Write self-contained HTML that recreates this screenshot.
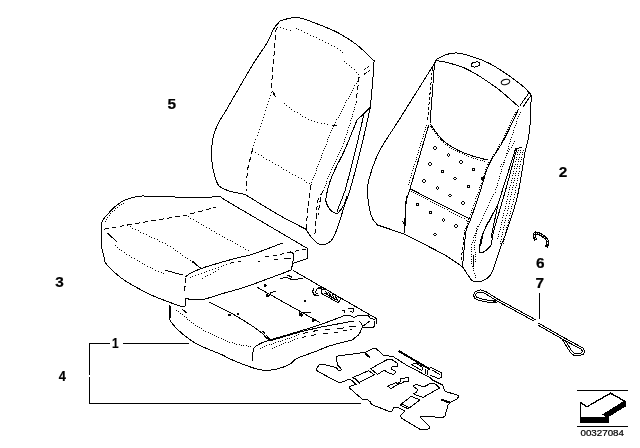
<!DOCTYPE html>
<html><head><meta charset="utf-8"><title>Seat cover diagram</title>
<style>
html,body{margin:0;padding:0;background:#fff;}
body{width:640px;height:448px;overflow:hidden;}
svg{display:block;}
text{font-family:"Liberation Sans",sans-serif;fill:#000;}
.n{font-weight:bold;font-size:14px;text-anchor:middle;stroke:#000;stroke-width:0.2px;}
</style></head><body>
<svg width="640" height="448" viewBox="0 0 640 448">
<rect width="640" height="448" fill="#fff"/>
<g fill="none" stroke="#000" stroke-width="1" shape-rendering="crispEdges" stroke-linejoin="round">

<!-- ===== backrest cover 5 ===== -->
<g id="b5">
<path d="M245,194.5 C242.50,193.96 233.96,192.42 230,191.25 C226.04,190.08 223.33,188.75 221.25,187.5 C219.17,186.25 218.75,186.25 217.5,183.75 C216.25,181.25 214.71,176.46 213.75,172.5 C212.79,168.54 212.08,164.17 211.75,160 C211.42,155.83 211.42,151.67 211.75,147.5 C212.08,143.33 212.58,139.17 213.75,135 C214.92,130.83 216.67,126.67 218.75,122.5 C220.83,118.33 220.62,119.58 226.25,110 C231.88,100.42 246.04,75.62 252.5,65 C258.96,54.38 262.08,50.93 265,46.25 C267.92,41.57 268.54,39.82 270,36.9 C271.46,33.98 272.29,31.15 273.75,28.75 C275.21,26.35 277.50,23.86 278.75,22.5 C280.00,21.14 278.96,21.39 281.25,20.6 C283.54,19.81 289.58,18.23 292.5,17.75 C295.42,17.27 296.50,17.43 298.75,17.75 C301.00,18.07 303.29,18.82 306,19.7 C308.71,20.57 310.17,21.07 315,23 C319.83,24.93 329.17,28.42 335,31.25 C340.83,34.08 345.83,37.29 350,40 C354.17,42.71 356.00,44.00 360,47.5 C364.00,51.00 371.67,58.75 374,61 C374.00,61.25 374.20,59.33 374,62.5 C373.80,65.67 373.40,72.55 372.8,80 C372.20,87.45 370.80,102.67 370.4,107.2 C368.77,114.33 364.00,136.20 360.6,150 C357.20,163.80 352.60,181.04 350,190 C347.40,198.96 346.67,198.75 345,203.75 C343.33,208.75 341.57,215.21 340,220 C338.43,224.79 337.06,229.07 335.6,232.5 C334.14,235.93 333.02,238.62 331.25,240.6 C329.48,242.58 326.88,243.77 325,244.4 C323.12,245.03 321.67,244.93 320,244.4 C318.33,243.88 316.67,242.72 315,241.25 C313.33,239.78 311.46,237.57 310,235.6 C308.54,233.62 306.88,230.43 306.25,229.4 C301.88,227.10 290.21,221.42 280,215.6 C269.79,209.78 250.83,198.02 245,194.5"/>
<path d="M370.4,107.2 L356.9,120.3 C354.87,125.25 348.03,142.45 344.7,150 C341.37,157.55 339.25,160.65 336.9,165.6 C334.55,170.55 332.30,175.01 330.6,179.7 C328.90,184.39 327.47,190.12 326.7,193.75 C325.93,197.38 325.48,198.89 326,201.5 C326.52,204.11 328.25,207.43 329.8,209.4 C331.35,211.37 333.87,212.78 335.3,213.3 C336.73,213.82 336.95,213.93 338.4,212.5 C339.85,211.07 342.57,207.37 344,204.7 C345.43,202.03 346.50,197.87 347,196.5"/>
<path d="M364,114 L355.6,150 L345.3,190 L337,211.7"/>
</g>
<g id="b5d" stroke-dasharray="5 3">
<path d="M276.25,27.5 L271.25,88.75 L275,95"/>
<path d="M252.5,149.5 L247.5,169.5 L246,191"/>
<path d="M359,77.5 L356,102.5"/>
<path d="M363.75,70 L369,66.25 M364.2,74.2 L370.8,69.5" stroke-dasharray="3 1.5"/>
<path d="M311,184.7 L308,206 L306,230.6"/>
<path d="M323,191 L317.5,200.6 L314.7,237"/>
<path d="M320.6,197.5 L318,215"/>
</g>
<path fill="#000" stroke="none" d="M277,27h1v1h-1zM280,27h1v1h-1zM283,28h1v1h-1zM286,29h1v1h-1zM290,30h1v1h-1zM296,28h1v1h-1zM298,29h1v1h-1zM301,30h1v1h-1zM304,32h1v1h-1zM307,33h1v1h-1zM310,35h1v1h-1zM313,36h1v1h-1zM316,37h1v1h-1zM319,39h1v1h-1zM322,40h1v1h-1zM325,42h1v1h-1zM328,43h1v1h-1zM331,45h1v1h-1zM334,46h1v1h-1zM337,48h1v1h-1zM340,50h1v1h-1zM342,52h1v1h-1zM344,61h1v1h-1zM346,63h1v1h-1zM349,65h1v1h-1zM351,67h1v1h-1zM354,69h1v1h-1zM356,72h1v1h-1zM358,74h1v1h-1zM271,92h1v1h-1zM270,95h1v1h-1zM269,98h1v1h-1zM268,101h1v1h-1zM267,104h1v1h-1zM266,107h1v1h-1zM265,110h1v1h-1zM264,114h1v1h-1zM263,117h1v1h-1zM262,120h1v1h-1zM261,123h1v1h-1zM260,126h1v1h-1zM259,129h1v1h-1zM258,132h1v1h-1zM257,135h1v1h-1zM255,139h1v1h-1zM254,142h1v1h-1zM253,145h1v1h-1zM252,148h1v1h-1zM284,103h1v1h-1zM286,105h1v1h-1zM289,107h1v1h-1zM291,109h1v1h-1zM294,111h1v1h-1zM297,112h1v1h-1zM300,114h1v1h-1zM302,116h1v1h-1zM305,117h1v1h-1zM308,119h1v1h-1zM311,120h1v1h-1zM314,121h1v1h-1zM317,122h1v1h-1zM321,123h1v1h-1zM324,123h1v1h-1zM327,124h1v1h-1zM252,151h1v1h-1zM255,152h1v1h-1zM258,154h1v1h-1zM261,155h1v1h-1zM263,157h1v1h-1zM266,159h1v1h-1zM269,160h1v1h-1zM272,162h1v1h-1zM275,164h1v1h-1zM278,165h1v1h-1zM281,167h1v1h-1zM283,169h1v1h-1zM286,170h1v1h-1zM289,172h1v1h-1zM292,174h1v1h-1zM295,175h1v1h-1zM298,177h1v1h-1zM301,178h1v1h-1zM304,180h1v1h-1zM306,182h1v1h-1zM309,183h1v1h-1z"/>
<path d="M273,94 L276,97 M332,125.5 L336.5,125.5"/>
<path fill="#000" stroke="none" d="M356,102h1v1h-1zM355,104h1v1h-1zM354,107h1v1h-1zM354,109h1v1h-1zM353,111h1v1h-1zM352,114h1v1h-1zM352,116h1v1h-1zM351,118h1v1h-1zM350,120h1v1h-1zM350,123h1v1h-1zM349,125h1v1h-1zM348,127h1v1h-1zM347,130h1v1h-1zM347,132h1v1h-1zM346,134h1v1h-1zM345,137h1v1h-1zM344,139h1v1h-1zM344,141h1v1h-1zM343,143h1v1h-1zM342,146h1v1h-1zM341,148h1v1h-1zM340,150h1v1h-1zM339,152h1v1h-1zM338,154h1v1h-1zM337,156h1v1h-1zM336,159h1v1h-1zM335,161h1v1h-1zM334,163h1v1h-1zM333,165h1v1h-1zM332,167h1v1h-1zM331,169h1v1h-1zM330,172h1v1h-1zM329,174h1v1h-1zM328,176h1v1h-1zM327,178h1v1h-1zM326,181h1v1h-1zM326,183h1v1h-1zM325,185h1v1h-1zM324,187h1v1h-1zM323,190h1v1h-1zM359,77h1v1h-1zM358,79h1v1h-1zM357,81h1v1h-1zM356,83h1v1h-1zM354,85h1v1h-1zM353,88h1v1h-1zM352,90h1v1h-1zM351,92h1v1h-1zM350,94h1v1h-1zM349,96h1v1h-1zM348,98h1v1h-1zM346,100h1v1h-1zM345,102h1v1h-1zM344,105h1v1h-1zM343,107h1v1h-1zM342,109h1v1h-1zM341,111h1v1h-1zM340,113h1v1h-1zM339,115h1v1h-1zM338,117h1v1h-1zM336,119h1v1h-1zM335,122h1v1h-1zM334,124h1v1h-1zM333,126h1v1h-1zM332,128h1v1h-1zM331,130h1v1h-1zM330,132h1v1h-1zM329,135h1v1h-1zM328,137h1v1h-1zM327,139h1v1h-1zM327,141h1v1h-1zM326,144h1v1h-1zM325,146h1v1h-1zM324,148h1v1h-1zM323,150h1v1h-1zM322,153h1v1h-1zM321,155h1v1h-1zM321,157h1v1h-1zM320,159h1v1h-1zM319,161h1v1h-1zM318,164h1v1h-1zM317,166h1v1h-1zM316,168h1v1h-1zM316,170h1v1h-1zM315,173h1v1h-1zM314,175h1v1h-1zM313,177h1v1h-1zM312,179h1v1h-1zM311,182h1v1h-1zM311,184h1v1h-1z"/>

<!-- ===== seat cover 3 ===== -->
<g id="s3">
<path d="M220,196.25 L202.5,198 C197.92,197.83 183.75,197.28 175,197 C166.25,196.72 156.04,196.43 150,196.3 C143.96,196.18 142.92,195.63 138.75,196.25 C134.58,196.87 128.75,198.44 125,200 C121.25,201.56 118.96,203.43 116.25,205.6 C113.54,207.77 110.96,210.60 108.75,213 C106.54,215.40 104.25,217.79 103,220 C101.75,222.21 101.54,222.92 101.25,226.25 C100.96,229.58 101.12,236.25 101.25,240 C101.38,243.75 101.47,245.62 102,248.75 C102.53,251.88 103.80,256.38 104.4,258.75 C105.00,261.12 104.46,261.23 105.6,263 C106.74,264.77 108.85,267.07 111.25,269.4 C113.65,271.73 116.88,274.61 120,277 C123.12,279.39 124.58,280.65 130,283.75 C135.42,286.85 143.75,291.73 152.5,295.6 C161.25,299.48 177.50,305.10 182.5,307 L185,306 L185.6,298.2 L190,299.4 C192.29,299.37 198.58,300.10 203.75,299.2 C208.92,298.30 214.96,295.77 221,294 C227.04,292.23 234.75,290.18 240,288.6 C245.25,287.02 243.96,287.60 252.5,284.5 C261.04,281.40 284.79,272.42 291.25,270 C291.54,268.50 292.58,263.54 293,261 C293.42,258.46 294.25,256.42 293.75,254.75 C293.25,253.08 290.62,251.62 290,251"/>
<path d="M220,196.25 L225,200 L265,223.5 L307.5,248.5 L307.5,258.5 L292.5,263.5"/>
<path d="M185.5,277 C186.25,276.42 187.58,274.83 190,273.5 C192.42,272.17 196.67,270.32 200,269 C203.33,267.68 204.17,267.35 210,265.6 C215.83,263.85 228.12,260.33 235,258.5 C241.88,256.67 245.42,256.38 251.25,254.6 C257.08,252.82 264.79,249.73 270,247.8 C275.21,245.87 280.42,243.80 282.5,243"/>
<path fill="#000" stroke="none" d="M123,203h1v1h-1zM121,204h1v1h-1zM119,205h1v1h-1zM117,207h1v1h-1zM115,208h1v1h-1zM114,210h1v1h-1zM112,211h1v1h-1zM110,213h1v1h-1zM109,215h1v1h-1zM107,217h1v1h-1zM106,219h1v1h-1zM105,221h1v1h-1z"/>
<path d="M107.5,233 L117.5,242.5"/>
<path d="M192.3,261 L201,269"/>
<path d="M230,263.2 L234,262.4 M238,261.6 L241,261"/>
<path d="M165,270 L175,273 L182.5,275"/>
<path d="M274.4,260 L278,259.75 M283.75,259 L291.25,258.25 M257.5,261.25 L260,261.25"/>
</g>
<g stroke-dasharray="5 3">
<path d="M103.75,229.25 L127.5,225 L185.6,215.3 L216,207.25"/>
<path d="M185.6,278.5 L184.6,292"/>
<path d="M306,249 L292.5,251.6 L276,255.4 L262,257" stroke-dasharray="4 3.5"/>
</g>
<path fill="#000" stroke="none" d="M115,245h1v1h-1zM117,247h1v1h-1zM119,249h1v1h-1zM121,250h1v1h-1zM124,252h1v1h-1zM126,254h1v1h-1zM129,255h1v1h-1zM131,257h1v1h-1zM134,258h1v1h-1zM137,260h1v1h-1zM139,261h1v1h-1zM142,263h1v1h-1zM144,264h1v1h-1zM147,266h1v1h-1zM150,267h1v1h-1zM152,268h1v1h-1zM155,270h1v1h-1zM158,271h1v1h-1zM161,272h1v1h-1zM163,273h1v1h-1zM127,225h1v1h-1zM130,226h1v1h-1zM132,228h1v1h-1zM135,229h1v1h-1zM138,230h1v1h-1zM140,232h1v1h-1zM143,233h1v1h-1zM146,234h1v1h-1zM149,236h1v1h-1zM151,237h1v1h-1zM154,238h1v1h-1zM157,239h1v1h-1zM159,241h1v1h-1zM162,242h1v1h-1zM165,243h1v1h-1zM167,245h1v1h-1zM170,246h1v1h-1zM173,248h1v1h-1zM175,250h1v1h-1zM177,251h1v1h-1zM180,253h1v1h-1zM182,255h1v1h-1zM185,257h1v1h-1zM187,258h1v1h-1zM190,260h1v1h-1zM192,262h1v1h-1zM195,263h1v1h-1zM197,265h1v1h-1zM200,267h1v1h-1zM185,215h1v1h-1zM188,216h1v1h-1zM190,218h1v1h-1zM193,219h1v1h-1zM196,221h1v1h-1zM198,222h1v1h-1zM201,224h1v1h-1zM203,225h1v1h-1zM206,227h1v1h-1zM209,228h1v1h-1zM211,230h1v1h-1zM214,231h1v1h-1zM216,233h1v1h-1zM219,234h1v1h-1zM222,236h1v1h-1zM224,237h1v1h-1zM227,239h1v1h-1zM230,240h1v1h-1zM232,241h1v1h-1zM235,243h1v1h-1zM237,244h1v1h-1zM240,246h1v1h-1zM243,247h1v1h-1zM245,249h1v1h-1zM248,250h1v1h-1zM190,277h1v1h-1zM192,276h1v1h-1zM195,275h1v1h-1zM198,274h1v1h-1zM201,273h1v1h-1zM204,272h1v1h-1zM206,271h1v1h-1zM209,270h1v1h-1zM212,269h1v1h-1zM215,268h1v1h-1zM218,267h1v1h-1zM221,266h1v1h-1zM223,265h1v1h-1zM226,264h1v1h-1zM202,278h1v1h-1zM205,276h1v1h-1zM207,275h1v1h-1zM210,274h1v1h-1zM213,272h1v1h-1zM215,271h1v1h-1zM218,269h1v1h-1z"/>

<!-- ===== seat pad/frame 1 ===== -->
<g id="p1">
<path d="M169.5,305 C169.54,307.29 169.25,315.62 169.75,318.75 C170.25,321.88 171.00,321.77 172.5,323.75 C174.00,325.73 176.04,328.10 178.75,330.6 C181.46,333.10 185.21,336.25 188.75,338.75 C192.29,341.25 194.38,342.89 200,345.6 C205.62,348.31 217.50,352.77 222.5,355 C227.50,357.23 225.10,356.92 230,359 C234.90,361.08 246.17,365.62 251.9,367.5 C257.63,369.38 260.23,370.05 264.4,370.3 C268.57,370.55 272.73,369.98 276.9,369 C281.07,368.02 286.02,366.18 289.4,364.4 C292.78,362.62 293.03,360.38 297.2,358.3 C301.37,356.22 308.93,353.98 314.4,351.9 C319.87,349.82 323.73,347.78 330,345.8 C336.27,343.82 348.04,341.22 352,340 C355.96,338.78 352.62,339.38 353.75,338.5 C354.88,337.62 357.50,336.21 358.75,334.75 C360.00,333.29 360.62,331.21 361.25,329.75 C361.88,328.29 362.81,327.46 362.5,326 C362.19,324.54 359.92,321.83 359.4,321"/>
<path d="M252.5,361 C252.71,358.96 252.50,351.62 253.75,348.75 C255.00,345.88 257.29,345.21 260,343.75 C262.71,342.29 263.33,342.12 270,340 C276.67,337.88 291.67,333.54 300,331 C308.33,328.46 312.50,327.35 320,324.75 C327.50,322.15 340.83,316.96 345,315.4 C345.83,315.46 348.54,315.44 350,315.75 C351.46,316.06 352.50,317.21 353.75,317.25 C355.00,317.29 355.21,316.31 357.5,316 C359.79,315.69 365.42,315.08 367.5,315.4 C369.58,315.72 368.75,317.17 370,317.9 C371.25,318.62 374.17,319.44 375,319.75"/>
<path d="M269.5,341 L300,332 L320,327.25 L353.75,321"/>
<path d="M293.4,270.6 L376.25,318.5 L377,319.75 L376.25,324"/>
<path d="M370,321 L362.5,326.6 L363.75,327.9 L373.75,327.9 L375,321"/>
<path d="M209.4,302.25 C212.83,303.96 223.44,308.92 230,312.5 C236.56,316.08 243.54,320.42 248.75,323.75 C253.96,327.08 257.81,329.79 261.25,332.5 C264.69,335.21 268.04,338.75 269.4,340"/>
<path d="M257.5,287.5 L320,322.5"/>
<path d="M313.75,288.25 L312.5,292 L314.4,295 L319.4,295.75" stroke-width="1.5"/>
<path d="M316.9,288.9 L315.6,292.5 L317.5,294"/>
<path d="M317.5,287.8 L322.5,288.4" stroke-width="2"/>
<path d="M321.25,290 L325.6,288.9 L341.25,298.9 L338,302.6 L321.25,293.25 Z"/>
<path d="M325,291 L328,294.5 M328,292 L332,297 M332,294 L335,299.5 M335.5,296.5 L338,301 M324,293 L337,300"/>
<path d="M280,274.5 L291.25,270 L292.5,264.5"/>
<path d="M280,278.25 L287.5,277.6 L292.5,280 L302.5,278.25"/>
<path d="M287.5,275 L292.5,277.5"/>
<path d="M298.75,314.5 L301.5,316.5 L303.75,312.6 L311.25,312"/>
<path d="M299,313 L302,315" stroke-width="2"/>
<path d="M266,296 L268.5,297 L271,292.5 L276,291"/>
<path d="M266,294.5 L269,296.5" stroke-width="2"/>
<path d="M341.9,311 L345,310.4 L344.4,313 M348,309 L353.75,308.5 L353,312.25 L350,311.6"/>
<path d="M264,284.5 h2 v1.5 h-2z M228,314 h2 v1.5 h-2z M237,313 h1.5 v1.5 h-1.5z M312,319.5 h2 v1.5 h-2z M304,300 h1.5 v1.5 h-1.5z" fill="#000"/>
<path d="M262.5,331 L265,333.5 M266,335 L270,338.75 M264,336 L267,339"/>
</g>
<g stroke-dasharray="5 3">
<path fill="#000" stroke="none" d="M176,310h1v1h-1zM178,311h1v1h-1zM180,313h1v1h-1zM182,314h1v1h-1zM184,316h1v1h-1zM186,317h1v1h-1zM187,319h1v1h-1zM189,320h1v1h-1zM191,322h1v1h-1zM193,323h1v1h-1zM195,325h1v1h-1zM197,326h1v1h-1zM199,327h1v1h-1zM201,328h1v1h-1zM203,330h1v1h-1zM205,331h1v1h-1zM208,332h1v1h-1zM210,333h1v1h-1zM212,334h1v1h-1zM214,335h1v1h-1zM216,336h1v1h-1zM218,337h1v1h-1zM221,338h1v1h-1zM223,339h1v1h-1zM225,340h1v1h-1zM227,341h1v1h-1zM229,342h1v1h-1zM232,342h1v1h-1zM234,343h1v1h-1zM236,344h1v1h-1zM239,344h1v1h-1zM241,345h1v1h-1zM243,345h1v1h-1zM246,345h1v1h-1zM248,346h1v1h-1zM250,346h1v1h-1z"/>
<path d="M182.5,309.4 L186.9,313" stroke-dasharray="none"/>
<path d="M170.5,306 L170.6,318" stroke-dasharray="none"/>
<path fill="#000" stroke="none" d="M260,348h1v1h-1zM262,347h1v1h-1zM264,346h1v1h-1zM266,345h1v1h-1zM269,344h1v1h-1zM271,344h1v1h-1zM273,343h1v1h-1zM275,342h1v1h-1zM278,341h1v1h-1zM280,341h1v1h-1zM282,340h1v1h-1zM285,339h1v1h-1zM287,338h1v1h-1zM289,338h1v1h-1zM291,337h1v1h-1zM294,336h1v1h-1zM296,335h1v1h-1zM298,334h1v1h-1z"/>
<path fill="#000" stroke="none" d="M272,348h1v1h-1zM274,347h1v1h-1zM276,346h1v1h-1zM279,345h1v1h-1zM281,344h1v1h-1zM283,343h1v1h-1zM285,342h1v1h-1zM288,342h1v1h-1zM290,341h1v1h-1zM292,340h1v1h-1zM294,339h1v1h-1zM297,338h1v1h-1z"/>
<path d="M303,333.5 L308,332.3 M313,331.3 L318,330.3 M302,337.5 L306,336.5 M311,335.5 L316,334.6" stroke-dasharray="none"/>
<path d="M325,329.1 L330,329.1 M337.5,328.5 L343.75,327.9 M349.4,326.6 L356.25,326 M322.5,333.25 L327.5,333.25 M333.75,332.25 L337.5,332.25 M343,331 L347,330.75 M350,329.75 L352.5,329.5" stroke-dasharray="none"/>
</g>

<!-- ===== mat 4 ===== -->
<g id="m4">
<path d="M316.25,369.4 L319.4,364.4 L323,364.4 L336.25,367.5 L338,370 L341.25,370 L340.6,368 L337.5,365 L336.25,356.25 L360,353 L365,352.5 L373.75,348 L376.25,348.75 L382.5,354.4 L383.75,355.6 L392.5,356.25 L406.25,365 L430,377.5 L432.5,380 L442.5,385 L445,391.25 L458.75,395.6 L457.5,398.75 L450,402.5 L448,405 L445,416.25 L442.5,417.5 L423.75,416.25 L420,416.25 L421.25,418 L430,427 L429.4,428.75 L421.25,430 L401.25,418 L400.6,415.6 L405,411.25 L398,407.5 L393.75,407.5 L392,411 L388.75,411.25 L371.25,404.4 L370.6,402 L367.5,399.75 L362.5,399.4 L349.4,388 L350,386.25 L356.25,384.4 L351.25,380 L348.75,379.4 L342.5,382 L338.75,382.5 L317.5,371.25 Z"/>
<path d="M353,377.5 L368.75,370.6 L374.4,375 L359.4,382.5 Z"/>
<path d="M354.5,378 L360,383.5"/>
<path d="M370.6,368.75 L387.5,359.4 L392.5,360 L398,363.75 L397.5,366.25 L392.5,366.25 L391.25,368.75 L396.25,372 L393.75,374.4 L388.75,373 L385,370.6 L382.5,371.25 L377.5,374.4 Z"/>
<path d="M387.5,386.25 L396.25,382.5 L398,384.5 L391,388.5 Z"/>
<path d="M400,379 L409,377.3 L408,381.5 L403.5,382 L401,384 L398.5,383 L401,381 Z"/>
<path d="M413,386.25 L416.25,384.4 L423.75,386.9 L427.5,385 L430,383 L435,383.75 L439.4,388 L423,397.5 L413,393.75 L416.25,392.5 L417.5,389.4 Z"/>
<path d="M400,405 L411.25,396.25 L420,400 L408,408.75 Z"/>
<path d="M401.5,404 L409.5,407.8"/>
<path d="M398.75,351 L430,369.4" stroke-width="2"/>
<path d="M411.25,364.4 L416.25,363 L422.5,367.5 L421.9,370.6 Z"/>
<path d="M430,367 L441.25,372.5 L441.25,377.5 L438.75,378.75 L430,375"/>
<path d="M432,370 L440,374.5 M426,369 L425,374 M428,370 L427.5,375"/>
<path d="M365,353 L370,357.5" stroke-width="2"/>
<path d="M440.6,399.4 L449.4,402.5" stroke-width="2"/>
</g>

<!-- ===== backrest 2 ===== -->
<g id="b2">
<path d="M436.25,59.5 C437.71,58.75 441.88,56.08 445,55 C448.12,53.92 451.67,53.08 455,53 C458.33,52.92 459.17,52.71 465,54.5 C470.83,56.29 480.83,58.88 490,63.75 C499.17,68.62 513.12,78.54 520,83.75 C526.88,88.96 529.38,93.12 531.25,95 C531.04,100.00 530.54,117.50 530,125 C529.46,132.50 528.83,135.42 528,140 C527.17,144.58 526.75,143.17 525,152.5 C523.25,161.83 520.50,183.08 517.5,196 C514.50,208.92 509.92,221.21 507,230 C504.08,238.79 502.33,242.08 500,248.75 C497.67,255.42 494.88,265.29 493,270 C491.12,274.71 490.71,275.12 488.75,277 C486.79,278.88 483.88,280.54 481.25,281.25 C478.62,281.96 475.08,282.08 473,281.25 C470.92,280.42 470.42,278.57 468.75,276.25 C467.08,273.93 463.96,268.79 463,267.3 C460.17,265.38 453.00,259.87 446,255.75 C439.00,251.63 427.95,246.22 421,242.6 C414.05,238.97 407.08,235.43 404.3,234 L377.5,225 C376.42,223.33 372.67,220.83 371,215 C369.33,209.17 367.50,197.08 367.5,190 C367.50,182.92 368.92,179.17 371,172.5 C373.08,165.83 375.17,159.02 380,150 C384.83,140.98 390.83,132.98 400,118.4 C409.17,103.82 429.17,71.82 435,62.5 L436.25,59.5"/>
<path d="M436,60.5 C437.83,60.83 442.27,61.25 447,62.5 C451.73,63.75 458.65,65.50 464.4,68 C470.15,70.50 475.77,73.92 481.5,77.5 C487.23,81.08 492.50,84.58 498.75,89.5 C505.00,94.42 515.62,104.08 519,107"/>
<path d="M531.25,95 L522.5,107.5"/>
<path d="M529,93 L520,105.5"/>
<path d="M434.5,63.75 L430,123.75 C432.08,126.46 437.92,135.62 442.5,140 C447.08,144.38 452.50,147.33 457.5,150 C462.50,152.67 467.50,154.33 472.5,156 C477.50,157.67 485.00,159.33 487.5,160"/>
<path d="M518.75,108.75 C516.25,113.96 508.75,130.62 503.75,140 C498.75,149.38 492.61,156.67 488.75,165 C484.89,173.33 483.62,180.93 480.6,190 C477.58,199.07 472.99,212.73 470.6,219.4 C468.21,226.07 467.28,225.57 466.25,230 C465.22,234.43 465.02,239.83 464.4,246 C463.77,252.17 462.82,263.50 462.5,267"/>
<path d="M428.75,125 L410,188.75 L405.5,203 L404.5,233.5"/>
<path d="M406.5,196 L405.3,215 L404.8,233" />
<path d="M402.5,221 L404,224"/>
<path d="M410,188.75 L470.6,219.4"/>
<path d="M515,148.75 L522.5,147.5"/>
<path d="M515.6,148.75 C513.42,155.62 505.52,180.62 502.5,190 C499.48,199.38 500.21,199.00 497.5,205 C494.79,211.00 489.07,220.17 486.25,226 C483.43,231.83 481.68,235.50 480.6,240 C479.52,244.50 479.89,250.83 479.75,253 C480.62,252.71 483.08,252.58 485,251.25 C486.92,249.92 490.21,246.04 491.25,245 C491.71,242.50 491.61,239.17 494,230 C496.39,220.83 501.83,203.42 505.6,190 C509.37,176.58 514.77,156.25 516.6,149.5"/>
<path d="M498,204 L491,238"/>
<path d="M496.5,207 L483.5,232 L480.6,246"/>
<path d="M473.75,255 L473,267.5"/>
</g>
<g stroke-dasharray="3 2">
<path d="M432.5,67.5 L427.5,120"/>
<path d="M464.5,232 L461,262"/>
</g>
<path fill="#000" stroke="none" d="M426,125h1v1h-1zM425,127h1v1h-1zM425,129h1v1h-1zM424,131h1v1h-1zM423,134h1v1h-1zM423,136h1v1h-1zM422,138h1v1h-1zM421,141h1v1h-1zM420,143h1v1h-1zM420,145h1v1h-1zM419,147h1v1h-1zM418,150h1v1h-1zM418,152h1v1h-1zM417,154h1v1h-1zM416,157h1v1h-1zM416,159h1v1h-1zM415,161h1v1h-1zM414,164h1v1h-1zM413,166h1v1h-1zM413,168h1v1h-1zM412,170h1v1h-1zM411,173h1v1h-1zM411,175h1v1h-1zM410,177h1v1h-1zM409,180h1v1h-1zM409,182h1v1h-1zM408,184h1v1h-1zM517,110h1v1h-1zM515,112h1v1h-1zM514,114h1v1h-1zM513,116h1v1h-1zM512,118h1v1h-1zM511,120h1v1h-1zM510,122h1v1h-1zM509,125h1v1h-1zM508,127h1v1h-1zM507,129h1v1h-1zM506,131h1v1h-1zM505,133h1v1h-1zM504,135h1v1h-1zM503,138h1v1h-1zM502,140h1v1h-1zM501,142h1v1h-1zM499,144h1v1h-1zM498,146h1v1h-1zM497,148h1v1h-1zM496,150h1v1h-1zM495,152h1v1h-1zM493,154h1v1h-1zM492,156h1v1h-1zM491,158h1v1h-1zM490,160h1v1h-1zM488,162h1v1h-1zM487,164h1v1h-1zM486,167h1v1h-1zM485,169h1v1h-1zM485,171h1v1h-1zM484,173h1v1h-1zM483,176h1v1h-1zM482,178h1v1h-1zM482,180h1v1h-1zM481,183h1v1h-1zM480,185h1v1h-1zM479,187h1v1h-1zM479,189h1v1h-1zM478,192h1v1h-1zM477,194h1v1h-1zM476,196h1v1h-1zM475,198h1v1h-1zM475,201h1v1h-1zM474,203h1v1h-1zM473,205h1v1h-1zM472,208h1v1h-1zM471,210h1v1h-1zM471,212h1v1h-1zM470,214h1v1h-1zM469,217h1v1h-1zM468,219h1v1h-1zM467,221h1v1h-1zM467,223h1v1h-1zM466,226h1v1h-1zM465,228h1v1h-1zM464,230h1v1h-1zM430,126h1v1h-1zM431,127h1v1h-1zM432,129h1v1h-1zM434,131h1v1h-1zM435,133h1v1h-1zM437,135h1v1h-1zM438,137h1v1h-1zM440,139h1v1h-1zM441,140h1v1h-1zM443,142h1v1h-1zM445,144h1v1h-1zM447,145h1v1h-1zM449,147h1v1h-1zM451,148h1v1h-1zM453,149h1v1h-1zM455,150h1v1h-1zM457,151h1v1h-1zM459,152h1v1h-1zM462,153h1v1h-1zM464,154h1v1h-1zM466,155h1v1h-1zM468,156h1v1h-1zM471,157h1v1h-1zM473,158h1v1h-1zM475,158h1v1h-1zM477,159h1v1h-1zM480,160h1v1h-1zM482,160h1v1h-1zM484,161h1v1h-1zM411,191h1v1h-1zM413,192h1v1h-1zM415,193h1v1h-1zM417,194h1v1h-1zM419,195h1v1h-1zM421,196h1v1h-1zM423,197h1v1h-1zM425,198h1v1h-1zM427,199h1v1h-1zM430,201h1v1h-1zM432,202h1v1h-1zM434,203h1v1h-1zM436,204h1v1h-1zM438,205h1v1h-1zM440,206h1v1h-1zM442,207h1v1h-1zM444,208h1v1h-1zM447,209h1v1h-1zM449,211h1v1h-1zM451,212h1v1h-1zM453,213h1v1h-1zM455,214h1v1h-1zM457,215h1v1h-1zM459,216h1v1h-1zM461,217h1v1h-1zM464,218h1v1h-1zM466,220h1v1h-1zM468,221h1v1h-1zM520,112h1v1h-1zM519,114h1v1h-1zM518,116h1v1h-1zM517,118h1v1h-1zM516,121h1v1h-1zM516,123h1v1h-1zM515,125h1v1h-1zM514,127h1v1h-1zM513,130h1v1h-1zM513,132h1v1h-1zM512,134h1v1h-1zM511,137h1v1h-1zM510,139h1v1h-1zM510,141h1v1h-1zM509,143h1v1h-1zM508,146h1v1h-1zM508,148h1v1h-1zM507,150h1v1h-1zM506,153h1v1h-1zM506,155h1v1h-1zM505,157h1v1h-1zM504,160h1v1h-1zM504,162h1v1h-1zM503,164h1v1h-1zM502,166h1v1h-1zM501,169h1v1h-1zM501,171h1v1h-1zM500,173h1v1h-1zM499,176h1v1h-1zM499,178h1v1h-1zM498,180h1v1h-1zM497,183h1v1h-1zM497,185h1v1h-1zM496,187h1v1h-1zM495,189h1v1h-1zM495,192h1v1h-1zM493,194h1v1h-1zM492,196h1v1h-1zM491,198h1v1h-1zM490,200h1v1h-1zM489,202h1v1h-1zM488,205h1v1h-1zM487,207h1v1h-1zM486,209h1v1h-1zM485,211h1v1h-1zM484,213h1v1h-1zM483,215h1v1h-1zM482,218h1v1h-1zM481,220h1v1h-1zM480,222h1v1h-1zM479,224h1v1h-1zM478,226h1v1h-1zM477,229h1v1h-1zM476,231h1v1h-1zM475,233h1v1h-1zM474,235h1v1h-1zM473,237h1v1h-1zM473,240h1v1h-1zM472,242h1v1h-1zM471,244h1v1h-1zM471,247h1v1h-1zM471,249h1v1h-1zM471,251h1v1h-1zM471,254h1v1h-1zM471,256h1v1h-1zM471,259h1v1h-1zM471,261h1v1h-1zM471,263h1v1h-1zM472,266h1v1h-1zM473,268h1v1h-1zM473,270h1v1h-1zM474,273h1v1h-1zM475,275h1v1h-1zM475,277h1v1h-1zM514,141h1v1h-1zM513,143h1v1h-1zM512,145h1v1h-1zM511,147h1v1h-1zM509,149h1v1h-1zM508,151h1v1h-1zM507,153h1v1h-1zM506,155h1v1h-1zM505,157h1v1h-1zM504,160h1v1h-1zM503,162h1v1h-1zM501,164h1v1h-1zM500,166h1v1h-1zM518,150h1v1h-1zM517,152h1v1h-1zM517,154h1v1h-1zM516,157h1v1h-1zM516,159h1v1h-1zM515,161h1v1h-1zM515,164h1v1h-1zM514,166h1v1h-1zM514,168h1v1h-1zM513,171h1v1h-1zM513,173h1v1h-1zM512,175h1v1h-1zM512,178h1v1h-1zM511,180h1v1h-1zM511,182h1v1h-1zM510,185h1v1h-1zM509,187h1v1h-1zM509,189h1v1h-1zM508,192h1v1h-1zM508,194h1v1h-1zM507,196h1v1h-1zM507,199h1v1h-1zM506,201h1v1h-1zM506,203h1v1h-1zM505,206h1v1h-1zM505,208h1v1h-1zM504,210h1v1h-1zM503,213h1v1h-1zM503,215h1v1h-1zM502,217h1v1h-1zM502,220h1v1h-1zM501,222h1v1h-1zM501,224h1v1h-1zM500,227h1v1h-1zM500,229h1v1h-1zM499,231h1v1h-1zM498,234h1v1h-1zM498,236h1v1h-1zM497,238h1v1h-1zM520,150h1v1h-1zM520,152h1v1h-1zM519,154h1v1h-1zM519,157h1v1h-1zM518,159h1v1h-1zM518,161h1v1h-1zM517,164h1v1h-1zM517,166h1v1h-1zM516,168h1v1h-1zM516,171h1v1h-1zM515,173h1v1h-1zM515,175h1v1h-1zM514,178h1v1h-1zM514,180h1v1h-1zM513,182h1v1h-1zM513,185h1v1h-1zM512,187h1v1h-1zM512,189h1v1h-1zM511,192h1v1h-1zM511,194h1v1h-1zM510,196h1v1h-1zM510,199h1v1h-1zM509,201h1v1h-1zM509,203h1v1h-1zM508,206h1v1h-1zM508,208h1v1h-1zM507,210h1v1h-1zM507,213h1v1h-1zM506,215h1v1h-1zM505,218h1v1h-1zM505,220h1v1h-1zM504,222h1v1h-1zM504,225h1v1h-1zM503,227h1v1h-1zM503,229h1v1h-1zM502,232h1v1h-1zM502,234h1v1h-1zM501,236h1v1h-1zM501,239h1v1h-1zM500,241h1v1h-1zM500,243h1v1h-1zM523,150h1v1h-1zM522,152h1v1h-1zM522,154h1v1h-1zM521,157h1v1h-1zM521,159h1v1h-1zM520,161h1v1h-1zM520,164h1v1h-1zM519,166h1v1h-1zM519,168h1v1h-1zM519,171h1v1h-1zM518,173h1v1h-1zM518,175h1v1h-1zM517,178h1v1h-1zM517,180h1v1h-1zM516,183h1v1h-1zM516,185h1v1h-1zM515,187h1v1h-1zM515,190h1v1h-1zM515,192h1v1h-1zM514,194h1v1h-1zM514,197h1v1h-1zM513,199h1v1h-1zM513,201h1v1h-1zM512,204h1v1h-1zM511,206h1v1h-1zM511,208h1v1h-1zM510,211h1v1h-1zM510,213h1v1h-1zM509,215h1v1h-1zM509,218h1v1h-1zM508,220h1v1h-1zM508,222h1v1h-1zM507,225h1v1h-1zM506,227h1v1h-1zM506,229h1v1h-1zM505,232h1v1h-1zM505,234h1v1h-1zM504,236h1v1h-1zM504,239h1v1h-1zM503,241h1v1h-1zM503,243h1v1h-1zM477,226h1v1h-1zM476,228h1v1h-1zM476,230h1v1h-1zM476,233h1v1h-1zM475,235h1v1h-1zM475,237h1v1h-1zM475,240h1v1h-1zM474,242h1v1h-1zM474,245h1v1h-1zM474,247h1v1h-1zM474,249h1v1h-1zM475,252h1v1h-1zM475,254h1v1h-1zM475,256h1v1h-1zM475,259h1v1h-1zM475,261h1v1h-1z"/>
<g id="holes">
<ellipse cx="475.5" cy="64.5" rx="4.3" ry="2.4" transform="rotate(-12 475.5 64.5)"/><ellipse cx="505.5" cy="82" rx="4.3" ry="2.6" transform="rotate(-15 505.5 82)"/>
<circle cx="435" cy="148" r="1.2"/><circle cx="448.75" cy="155" r="1.2"/><circle cx="461" cy="162" r="1.2"/><circle cx="473.75" cy="169.5" r="1.2"/>
<circle cx="430" cy="164" r="1.2"/><circle cx="442.5" cy="171.5" r="1.2"/><circle cx="455" cy="178.75" r="1.2"/><circle cx="468.75" cy="186.5" r="1.2"/><circle cx="482.5" cy="178.75" r="1.2"/>
<circle cx="424" cy="181" r="1.2"/><circle cx="437.5" cy="188" r="1.2"/><circle cx="450" cy="195.5" r="1.2"/><circle cx="463" cy="203" r="1.2"/>
<circle cx="417.5" cy="204.5" r="1.2"/><circle cx="430.5" cy="212.5" r="1.2"/><circle cx="443.75" cy="220" r="1.2"/><circle cx="456" cy="226" r="1.2"/><circle cx="435" cy="234.5" r="1.2"/>
</g>

<!-- ===== clip 6 ===== -->
<path d="M535.8,240 L534.2,237 L534.2,234 L535.8,232.9 L539.4,234 L543.75,236.5 L546.9,239.6 L547.8,242.75 L547.5,245.25 L546.2,247.2" stroke-width="3"/>
<path d="M535.5,238.6 L534.2,236.5 L534.2,234 L535.8,232.9 L539.4,234 L543.75,236.5 L546.9,239.6 L547.8,242.75 L547.6,244.5" stroke="#fff" stroke-dasharray="1.4 0.9"/>

<!-- ===== strap 7 ===== -->
<g id="s7">
<path d="M535,320.5 L497,299.8 L485.5,292.5 L480.5,291 L476,292.4 L474.5,295 L475.6,297.8 L480.5,299.8 L493,302 L496.5,301.5 M538,324 L562.5,338 L582,348.6 L583.6,351 L582.6,353.5 L579.5,354.6 L574,354.2 L571,351.6 L564.5,341 L563,338.4" stroke-width="3"/>
<path d="M535,320.5 L497,299.8 L485.5,292.5 L480.5,291 L476,292.4 L474.5,295 L475.6,297.8 L480.5,299.8 L493,302 M538,324 L562.5,338 L582,348.6 L583.6,351 L582.6,353.5 L579.5,354.6 L574,354.2 L571,351.6 L564.5,341" stroke="#fff"/>
<path d="M539.5,293 L539.5,319"/>
</g>

<!-- bracket -->
<path d="M110,343.5 L89.5,343.5 L89.5,374.5 M89.5,377 L89.5,403.5 L361,403.5"/>
<path d="M122.5,343.5 L188.75,343.5"/>

<!-- logo -->
<path d="M577,390.5 L628,390.5 M577,426.5 L628,426.5"/>
</g>
<g shape-rendering="crispEdges">
<path d="M580.25,402.25 L586.9,406.6 L610.6,392.9 L625,401.25 L625,406.25 L606.9,417.5 L608.75,417.5 L608.75,422.5 L580.25,422.5 Z" fill="#000" stroke="#000" stroke-width="1"/>
<path d="M581,403.5 L586.9,407.5 L610.6,394 L623.5,401.25 L602,414.6 L606,417 L581,417 Z" fill="#fff" stroke="none"/>
</g>
<g style="filter:grayscale(1)">
<text class="n" transform="translate(171.8,109) scale(1.1,1)">5</text>
<text class="n" transform="translate(563,177) scale(1.1,1)">2</text>
<text class="n" transform="translate(59.5,287) scale(1.1,1)">3</text>
<text class="n" transform="translate(115.3,347.5) scale(0.85,1)">1</text>
<text class="n" transform="translate(62.3,380.8) scale(0.92,1)">4</text>
<text class="n" transform="translate(540.3,268.2) scale(1.1,1)">6</text>
<text class="n" transform="translate(539.8,287.5) scale(1.1,1)">7</text>
<text x="580.5" y="436" font-size="8.3" stroke="#000" stroke-width="0.2" textLength="43.5" lengthAdjust="spacingAndGlyphs">00327084</text>
</g>
</svg>
</body></html>
